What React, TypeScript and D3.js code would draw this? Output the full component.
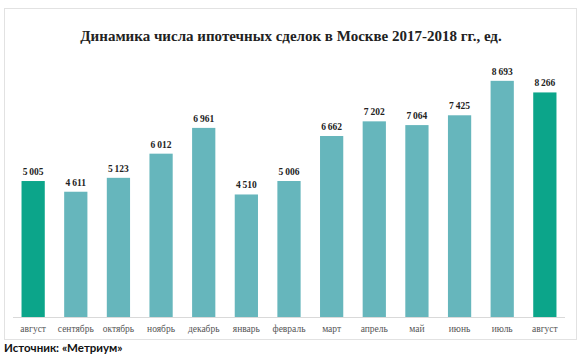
import React from "react";
import * as d3 from "d3";

const categories = ["август", "сентябрь", "октябрь", "ноябрь", "декабрь", "январь", "февраль", "март", "апрель", "май", "июнь", "июль", "август"];
const values = [5005, 4611, 5123, 6012, 6961, 4510, 5006, 6662, 7202, 7064, 7425, 8693, 8266];
const highlight = [true, false, false, false, false, false, false, false, false, false, false, false, true];
const title = "Динамика числа ипотечных сделок в Москве 2017-2018 гг., ед.";
const source = "Источник: «Метриум»";

const W = 582, H = 358;
const fmt = (v: number) => d3.format(",")(v).replace(/,/g, "\u2009");

export default function App() {
  const x = d3.scaleBand<number>().domain(d3.range(categories.length)).range([13, 565]).paddingInner(0.455).paddingOuter(0.2);
  const y = d3.scaleLinear().domain([0, 9460]).range([317, 60]);
  const serif = "'Liberation Serif', 'Times New Roman', serif";
  return (
    <svg width={W} height={H} style={{ position: "absolute", left: 0, top: 0 }}>
      <rect x={0} y={0} width={W} height={H} fill="#fff" />
      <rect x={4.5} y={8.5} width={572} height={331} fill="#fff" stroke="#e2e2e2" strokeWidth={1} />
      <text x={291} y={41} textAnchor="middle" fontFamily={serif} fontWeight="bold" fontSize={15} fill="#222">{title}</text>
      <line x1={13} x2={565} y1={317.5} y2={317.5} stroke="#d9d9d9" strokeWidth={1} />
      {values.map((v, i) => (
        <g key={i}>
          <rect x={x(i)} y={y(v)} width={x.bandwidth()} height={y(0) - y(v)} fill={highlight[i] ? "#0ca58a" : "#66b6bc"} />
          <text x={(x(i) as number) + x.bandwidth() / 2} y={y(v) - 6} textAnchor="middle" fontFamily={serif} fontWeight="bold" fontSize={9.5} fill="#222">{fmt(v)}</text>
          <text x={(x(i) as number) + x.bandwidth() / 2} y={332} textAnchor="middle" fontFamily={serif} fontSize={9.5} fill="#555">{categories[i]}</text>
        </g>
      ))}
      <text x={4} y={352} fontFamily="Lato, 'Open Sans', sans-serif" fontWeight="bold" fontSize={11.5} fill="#111">{source}</text>
    </svg>
  );
}
